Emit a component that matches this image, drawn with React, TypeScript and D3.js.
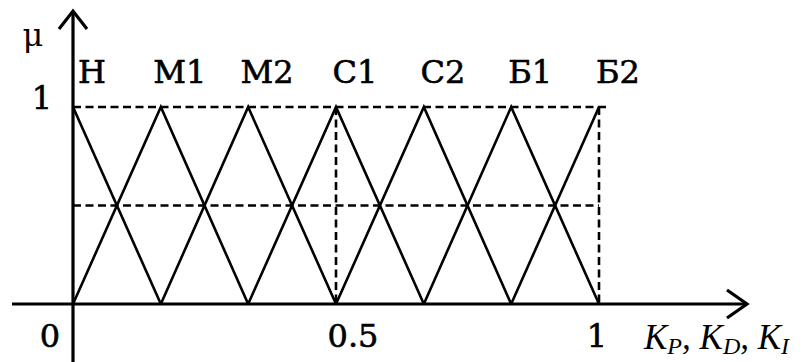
import React, { useRef, useEffect } from "react";
import * as d3 from "d3";

// membership functions (triangles): left foot, peak, right foot
const termNames = ["Н", "М1", "М2", "С1", "С2", "Б1", "Б2"];
const termLeft = [0, 0, 0.167, 0.333, 0.5, 0.667, 0.833];
const termPeak = [0, 0.167, 0.333, 0.5, 0.667, 0.833, 1];
const termRight = [0.167, 0.333, 0.5, 0.667, 0.833, 1, 1];

const xTickValues = [0, 0.5, 1];
const xTickLabels = ["0", "0.5", "1"];
const yTickValues = [1];
const yTickLabels = ["1"];
const guideLevels = [0.5, 1];
const guideVerticals = [0.5, 1];

const App = () => {
  const svgRef = useRef<SVGSVGElement>(null);

  useEffect(() => {
    const svg = d3.select(svgRef.current);
    svg.selectAll("*").remove();
    const width = 811;
    const height = 362;
    svg.attr("width", width).attr("height", height);

    const x = d3.scaleLinear().domain([0, 1]).range([73, 599]);
    const y = d3.scaleLinear().domain([0, 1]).range([304, 107]);
    const font = "'DejaVu Serif', serif";

    // dashed guides
    const guides = svg.append("g")
      .attr("stroke", "#000")
      .attr("stroke-width", 2.6)
      .attr("stroke-dasharray", "8,4.5");
    guides.selectAll("line.h")
      .data(guideLevels)
      .join("line")
      .attr("class", "h")
      .attr("x1", x(0))
      .attr("x2", (d) => (d === 1 ? x(1) + 10 : x(1)))
      .attr("y1", (d) => y(d))
      .attr("y2", (d) => y(d));
    guides.selectAll("line.v")
      .data(guideVerticals)
      .join("line")
      .attr("class", "v")
      .attr("x1", (d) => x(d))
      .attr("x2", (d) => x(d))
      .attr("y1", y(1))
      .attr("y2", y(0));

    // triangles
    const line = d3.line<[number, number]>()
      .x((d) => x(d[0]))
      .y((d) => y(d[1]));
    const tri = termNames.map((_, i) => {
      const pts: [number, number][] = [];
      if (termLeft[i] < termPeak[i]) pts.push([termLeft[i], 0]);
      pts.push([termPeak[i], 1]);
      if (termRight[i] > termPeak[i]) pts.push([termRight[i], 0]);
      return pts;
    });
    svg.append("g")
      .selectAll("path")
      .data(tri)
      .join("path")
      .attr("d", (d) => line(d))
      .attr("fill", "none")
      .attr("stroke", "#000")
      .attr("stroke-width", 2.6)
      .attr("stroke-linejoin", "miter");

    // axes with arrows
    const axes = svg.append("g")
      .attr("stroke", "#000")
      .attr("stroke-width", 3.2)
      .attr("fill", "none");
    axes.append("line")
      .attr("x1", 12).attr("x2", 746)
      .attr("y1", y(0)).attr("y2", y(0));
    axes.append("path")
      .attr("d", `M727,${y(0) - 14} L747,${y(0)} L727,${y(0) + 14}`);
    axes.append("line")
      .attr("x1", x(0)).attr("x2", x(0))
      .attr("y1", 12).attr("y2", height);
    axes.append("path")
      .attr("d", `M${x(0) - 14},29 L${x(0)},11 L${x(0) + 14},29`);

    const bold = (sel: any) =>
      sel.attr("stroke", "#000").attr("stroke-width", 0.6).attr("fill", "#000");

    // term labels
    svg.append("g")
      .call(bold)
      .selectAll("text")
      .data(termNames)
      .join("text")
      .attr("x", (d, i) => x(termPeak[i]) + 19)
      .attr("y", 83)
      .attr("text-anchor", "middle")
      .attr("font-family", font)
      .attr("font-size", 32)
      .text((d) => d);

    // x tick labels
    svg.append("g")
      .call(bold)
      .selectAll("text")
      .data(xTickValues)
      .join("text")
      .attr("x", (d) => (d === 0 ? x(d) - 23 : x(d) + (d === 0.5 ? 17 : -2)))
      .attr("y", 347)
      .attr("text-anchor", "middle")
      .attr("font-family", font)
      .attr("font-size", 32)
      .text((d, i) => xTickLabels[i]);

    // y tick labels
    svg.append("g")
      .call(bold)
      .selectAll("text")
      .data(yTickValues)
      .join("text")
      .attr("x", x(0) - 31)
      .attr("y", (d) => y(d) + 2)
      .attr("text-anchor", "middle")
      .attr("font-family", font)
      .attr("font-size", 32)
      .text((d, i) => yTickLabels[i]);

    // axis titles
    svg.append("text")
      .attr("x", 33)
      .attr("y", 46)
      .attr("text-anchor", "middle")
      .attr("font-family", font)
      .attr("font-size", 32)
      .text("μ");

    const xt = svg.append("text")
      .attr("x", 644)
      .attr("y", 349)
      .attr("font-family", "'Liberation Serif', serif")
      .attr("font-style", "italic")
      .attr("font-size", 35);
    ["P", "D", "I"].forEach((s, i) => {
      xt.append("tspan").attr("dy", i === 0 ? 0 : -5).text((i === 0 ? "" : ", ") + "K");
      xt.append("tspan").attr("dy", 5).attr("font-size", 24).text(s);
    });
  }, []);

  return (
    <svg
      ref={svgRef}
      style={{ position: "absolute", left: 0, top: 0, background: "#fff" }}
    ></svg>
  );
};

export default App;
